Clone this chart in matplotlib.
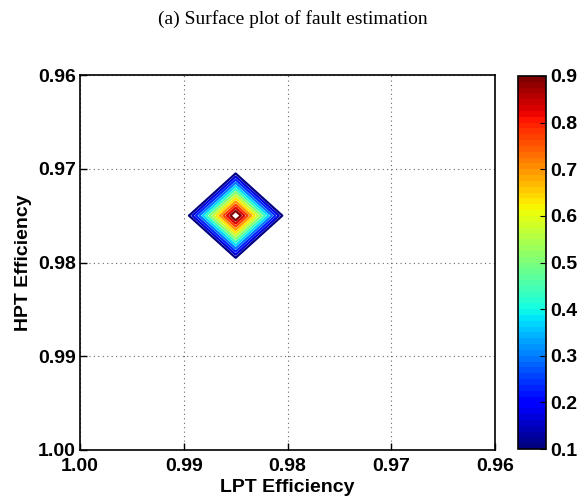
import numpy as np
import matplotlib.pyplot as plt

# grid of the estimated fault surface
lpt = [0.960, 0.965, 0.970, 0.975, 0.980, 0.985, 0.990, 0.995, 1.000]
hpt = [0.960, 0.965, 0.970, 0.975, 0.980, 0.985, 0.990, 0.995, 1.000]
z = [
    [0, 0, 0, 0, 0, 0, 0, 0, 0],
    [0, 0, 0, 0, 0, 0, 0, 0, 0],
    [0, 0, 0, 0, 0, 0, 0, 0, 0],
    [0, 0, 0, 0, 0, 1, 0, 0, 0],
    [0, 0, 0, 0, 0, 0, 0, 0, 0],
    [0, 0, 0, 0, 0, 0, 0, 0, 0],
    [0, 0, 0, 0, 0, 0, 0, 0, 0],
    [0, 0, 0, 0, 0, 0, 0, 0, 0],
    [0, 0, 0, 0, 0, 0, 0, 0, 0],
]
levels = [0.100, 0.167, 0.233, 0.300, 0.367, 0.433, 0.500,
          0.567, 0.633, 0.700, 0.767, 0.833, 0.900]
ticks = [0.96, 0.97, 0.98, 0.99, 1.00]
cbar_ticks = [0.1, 0.2, 0.3, 0.4, 0.5, 0.6, 0.7, 0.8, 0.9]

plt.rcParams['font.family'] = ['Liberation Sans', 'DejaVu Sans']
W, H = 586, 497
fig = plt.figure(figsize=(W / 100, H / 100), dpi=100)
ax = fig.add_axes([80 / W, 1 - 450 / H, 415 / W, 375 / H])
cax = fig.add_axes([518 / W, 1 - 449 / H, 28 / W, 373 / H])

cmap = plt.get_cmap('jet', 64)
X, Y = np.meshgrid(lpt, hpt)
cs = ax.contour(X, Y, np.array(z, dtype=float), levels=levels, cmap=cmap,
                vmin=0.1, vmax=0.9, linewidths=1.6)

ax.set_xlim(1.00, 0.96)
ax.set_ylim(1.00, 0.96)
ax.set_xticks(ticks)
ax.set_yticks(ticks)
ax.set_xticklabels(['%.2f' % t for t in ticks])
ax.set_yticklabels(['%.2f' % t for t in ticks])
ax.grid(True, linestyle=(0, (1, 3)), color='#666666', linewidth=0.8)
ax.tick_params(direction='in', length=5, width=1, labelsize=14)
ax.tick_params(axis='x', pad=6)
ax.tick_params(axis='y', pad=3)
for lab in ax.get_xticklabels() + ax.get_yticklabels():
    lab.set_fontweight('bold')
for sp in ax.spines.values():
    sp.set_linewidth(1.2)
ax.set_xlabel('LPT Efficiency', fontsize=14, fontweight='bold', labelpad=3)
ax.set_ylabel('HPT Efficiency', fontsize=14, fontweight='bold', labelpad=4)

sm = plt.cm.ScalarMappable(cmap=cmap, norm=plt.Normalize(0.1, 0.9))
cb = fig.colorbar(sm, cax=cax, ticks=cbar_ticks)
cb.ax.tick_params(direction='in', length=4, labelsize=14, pad=3)
for lab in cb.ax.get_yticklabels():
    lab.set_fontweight('bold')
cb.outline.set_linewidth(1.2)

fig.text(0.5, 1 - 19 / H, '(a) Surface plot of fault estimation',
         ha='center', va='center', fontsize=14, family='Liberation Serif')

fig.savefig('out.png', dpi=100)
